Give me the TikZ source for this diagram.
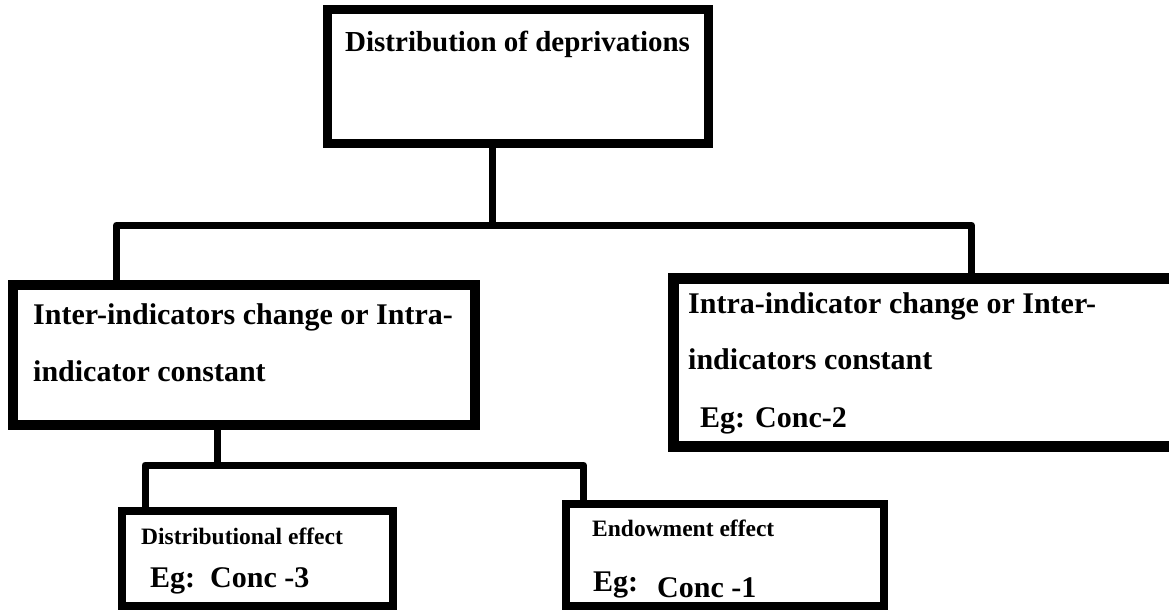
\documentclass[tikz,border=0pt]{standalone}
\usepackage{fontspec}
\setmainfont{Liberation Serif}
\usetikzlibrary{calc}

\tikzset{
  box/.style={draw=black, rectangle, inner sep=0pt, fill=white},
  conn/.style={draw=black, line width=7pt, line cap=round, line join=round},
  label/.style={anchor=base west, inner sep=0pt, text=black, font=\bfseries\fontsize{30}{36}\selectfont},
  small/.style={label, font=\bfseries\fontsize{23.5}{28}\selectfont}
}

\begin{document}
\begin{tikzpicture}[x=1pt, y=-1pt]
  \useasboundingbox (0,0) rectangle (1169,610);
  \clip (0,0) rectangle (1169,610);
  \fill[white] (0,0) rectangle (1169,610);

  % boxes
  \node[box, line width=9pt, minimum width=381pt, minimum height=134pt] (top) at (518,76.5) {};
  \node[box, line width=10pt, minimum width=462pt, minimum height=140pt] (inter) at (244,355) {};
  \node[box, line width=11pt, minimum width=516pt, minimum height=168pt] (intra) at (931.5,362.5) {};
  \node[box, line width=8pt, minimum width=271pt, minimum height=95pt] (distr) at (257.5,558.5) {};
  \node[box, line width=8pt, minimum width=318pt, minimum height=102pt] (endow) at (725,555) {};

  % junction points of the tree
  \coordinate (j1) at (492.5,225);
  \coordinate (b1) at (116.5,225);
  \coordinate (b2) at (971.5,225);
  \coordinate (j2) at (217.5,465);
  \coordinate (b3) at (145,465);
  \coordinate (b4) at (583.5,465);

  % connectors
  \draw[conn] (top.south -| j1) -- (j1);
  \draw[conn] (b1 |- inter.north) -- (b1) -- (b2) -- (b2 |- intra.north);
  \draw[conn] (inter.south -| j2) -- (j2);
  \draw[conn] (b3 |- distr.north) -- (b3) -- (b4) -- (b4 |- endow.north);

  % texts
  \node[label, font=\bfseries\fontsize{29}{34}\selectfont] (t0) at (345,52) {Distribution of deprivations};

  \node[label] (t1) at (33,324) {Inter-indicators change or Intra-};
  \node[label] (t2) at (33,381) {indicator constant};

  \node[label] (t3) at (688,313) {Intra-indicator change or Inter-};
  \node[label] (t4) at (688,369) {indicators constant};
  \node[label] (t5) at (700,427) {Eg: Conc-2};

  \node[small] (t6) at (141,544) {Distributional effect};
  \node[label] (t7) at (150,587) {Eg:\ \ Conc -3};

  \node[small] (t8) at (592,536) {Endowment effect};
  \node[label] (t9) at (593,591) {Eg:};
  \node[label] (t10) at (657,597) {Conc -1};
\end{tikzpicture}
\end{document}
